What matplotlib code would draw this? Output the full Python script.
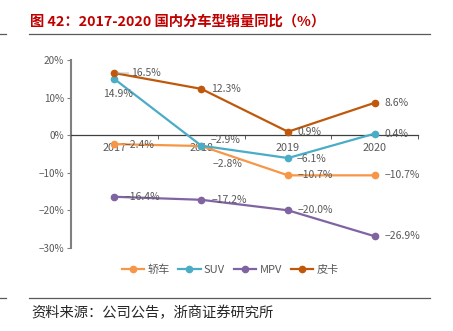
import matplotlib
matplotlib.use("Agg")
import matplotlib.pyplot as plt
from matplotlib.lines import Line2D

plt.rcParams['font.family'] = ['Noto Sans CJK SC', 'DejaVu Sans']
plt.rcParams['axes.unicode_minus'] = True

years = ['2017', '2018', '2019', '2020']
series_names = ['轿车', 'SUV', 'MPV', '皮卡']
sedan = [-2.4, -2.9, -10.7, -10.7]
suv = [14.9, -2.8, -6.1, 0.4]
mpv = [-16.4, -17.2, -20.0, -26.9]
pickup = [16.5, 12.3, 0.9, 8.6]
yticks = [20, 10, 0, -10, -20, -30]

colors = ['#F79646', '#4BACC6', '#8064A2', '#C0580C']
data = [sedan, suv, mpv, pickup]

fig = plt.figure(figsize=(4.53, 3.31), dpi=100)
ax = fig.add_axes([0.157, 0.251, 0.766, 0.568])

x = list(range(len(years)))
for vals, c, name in zip(data, colors, series_names):
    ax.plot(x, vals, color=c, lw=1.6, marker='o', ms=4.5, label=name, zorder=3)

lab_col = '#595959'
fs = 7.5
k = 0.72  # px -> pt

def lab(xi, v, dx, dy, ha='left', va='center', leader=False):
    kw = {}
    if leader:
        kw['arrowprops'] = dict(arrowstyle='-', color='#A6A6A6', lw=0.6, shrinkA=0, shrinkB=2)
    ax.annotate(f'{v:.1f}%'.replace('-', '\u2212'), (xi, v), xytext=(dx * k, dy * k),
                textcoords='offset points', ha=ha, va=va, fontsize=fs,
                color=lab_col, zorder=4, **kw)

# pickup
lab(0, pickup[0], 17, 0, leader=True)
lab(1, pickup[1], 10, 0)
lab(2, pickup[2], 10, 0)
lab(3, pickup[3], 10, 0)
# suv
lab(0, suv[0], 4, -15, ha='center')
lab(1, suv[1], 26, -18, ha='center')
lab(2, suv[2], 9, -1)
lab(3, suv[3], 10, 0)
# sedan
lab(0, sedan[0], 10, -1)
lab(1, sedan[1], 24, 6, ha='center')
lab(2, sedan[2], 10, 0)
lab(3, sedan[3], 10, 0)
# mpv
for i, v in enumerate(mpv):
    lab(i, v, 10, 0)

ax.set_xlim(-0.5, 3.5)
ax.set_ylim(-30, 20)
ax.set_yticks(yticks)
ax.set_yticklabels([f'{t}%'.replace('-', '\u2212') for t in yticks])
ax.set_xticks(x)
ax.set_xticklabels(years)
ax.set_xticks([0.5, 1.5, 2.5, 3.5], minor=True)
ax.tick_params(axis='x', which='major', length=0, pad=6, labelsize=7.8, labelcolor=lab_col)
ax.tick_params(axis='x', which='minor', length=3, color='#404040', direction='out')
ax.tick_params(axis='y', length=3, color='#808080', direction='out', pad=2,
               labelsize=7.2, labelcolor=lab_col)

for s in ['top', 'right']:
    ax.spines[s].set_visible(False)
ax.spines['bottom'].set_position(('data', 0))
ax.spines['bottom'].set_color('#404040')
ax.spines['bottom'].set_linewidth(0.9)
ax.spines['left'].set_color('#808080')
ax.spines['left'].set_linewidth(1.5)
ax.patch.set_alpha(0)

handles = [Line2D([0], [0], color=c, lw=1.6, marker='o', ms=4.5) for c in colors]
fig.legend(handles, series_names, loc='center', bbox_to_anchor=(0.508, 1 - 270 / 331),
           ncol=4, frameon=False, fontsize=8, handlelength=2.0, handletextpad=0.3,
           columnspacing=0.8, labelcolor=lab_col)

# title and rules
fig.text(30 / 453, 1 - 22 / 331, '图 42：2017-2020 国内分车型销量同比（%）', fontsize=10.3,
         fontweight='bold', color='#C00000', ha='left', va='center')
fig.add_artist(Line2D([29 / 453, 430 / 453], [1 - 34 / 331] * 2, color='#595959', lw=0.9))
fig.add_artist(Line2D([0, 6 / 453], [1 - 34 / 331] * 2, color='#595959', lw=0.9))
fig.add_artist(Line2D([29 / 453, 430 / 453], [1 - 298 / 331] * 2, color='#595959', lw=0.9))
fig.add_artist(Line2D([0, 6 / 453], [1 - 298 / 331] * 2, color='#595959', lw=0.9))
fig.text(31 / 453, 1 - 313 / 331, '资料来源：公司公告，浙商证券研究所', fontsize=10.3,
         color='#262626', ha='left', va='center')

fig.savefig('out.png', dpi=100)
